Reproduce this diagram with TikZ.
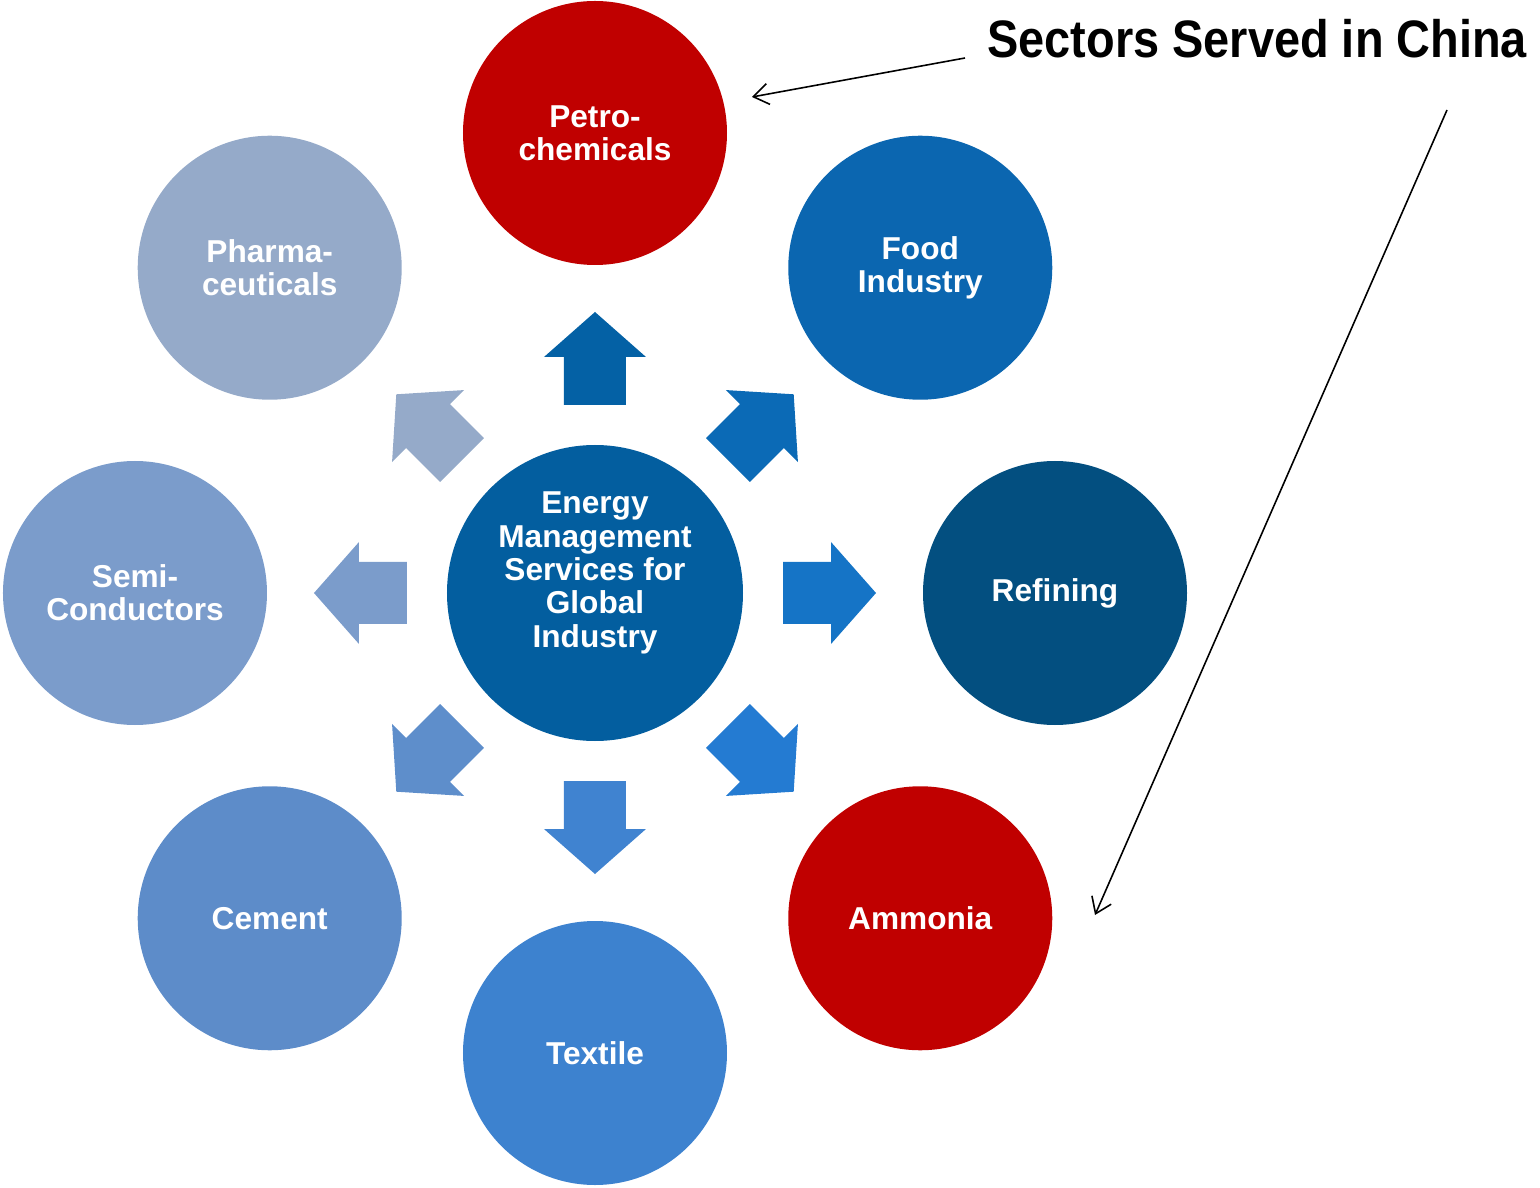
\documentclass[tikz,border=0pt]{standalone}
\usepackage{fontspec}
\setmainfont{Liberation Sans}
\newfontfamily\titlefont[FakeStretch=0.89]{Liberation Sans}
\usetikzlibrary{arrows.meta}

\definecolor{hubblue}{HTML}{035E9F}
\definecolor{chinared}{HTML}{C00000}
\definecolor{foodblue}{HTML}{0B66B0}
\definecolor{refblue}{HTML}{034F80}
\definecolor{textblue}{HTML}{3D82CF}
\definecolor{cemblue}{HTML}{5D8CC9}
\definecolor{semiblue}{HTML}{7B9CCB}
\definecolor{pharmblue}{HTML}{95AAC9}
\definecolor{arrA}{HTML}{0461A5}
\definecolor{arrB}{HTML}{0B6AB6}
\definecolor{arrC}{HTML}{1574C6}
\definecolor{arrD}{HTML}{247BD2}
\definecolor{arrE}{HTML}{4083D0}
\definecolor{arrF}{HTML}{5E8ECB}

\begin{document}
\begin{tikzpicture}[every node/.style={text=white, align=center, font=\bfseries\fontsize{18}{19}\selectfont},
  sector/.style={circle, minimum size=5.28cm, inner sep=0pt},
  hub/.style={circle, minimum size=5.92cm, inner sep=0pt, fill=hubblue},
  note/.style={-{Straight Barb[length=0.3cm, width=0.42cm]}, line width=0.9pt, black}]
  \useasboundingbox (-11.9,-11.9) rectangle (18.9,11.86);

  \foreach \ang/\col in {90/arrA, 45/arrB, 0/arrC, -45/arrD, -90/arrE, -135/arrF, 180/semiblue, 135/pharmblue}
    \fill [\col, rotate=\ang] (3.76,-0.62) -- (4.72,-0.62) -- (4.72,-1.02) -- (5.62,0)
      -- (4.72,1.02) -- (4.72,0.62) -- (3.76,0.62) -- cycle;

  \node [hub] (hub) at (0,0) {};
  \node (hubtext) at (0,0.40) {Energy\\Management\\Services for\\Global\\Industry};

  \node [sector, fill=chinared] (petro) at (90:9.2) {Petro-\\chemicals};
  \node [sector, fill=foodblue] (food) at (45:9.2) {Food\\Industry};
  \node [sector, fill=refblue] (refining) at (0:9.2) {Refining};
  \node [sector, fill=chinared] (ammonia) at (-45:9.2) {Ammonia};
  \node [sector, fill=textblue] (textile) at (-90:9.2) {Textile};
  \node [sector, fill=cemblue] (cement) at (-135:9.2) {Cement};
  \node [sector, fill=semiblue] (semi) at (180:9.2) {Semi-\\Conductors};
  \node [sector, fill=pharmblue] (pharma) at (135:9.2) {Pharma-\\ceuticals};

  \node [anchor=base west, text=black, inner sep=0pt, font=\titlefont\bfseries\fontsize{30}{32}\selectfont]
    (title) at (7.84,10.70) {Sectors Served in China};

  \coordinate (from1) at (7.40,10.70);
  \coordinate (to1) at (3.14,9.92);
  \coordinate (from2) at (17.04,9.66);
  \coordinate (to2) at (10.00,-6.44);
  \draw [note] (from1) -- (to1);
  \draw [note] (from2) -- (to2);
\end{tikzpicture}
\end{document}
